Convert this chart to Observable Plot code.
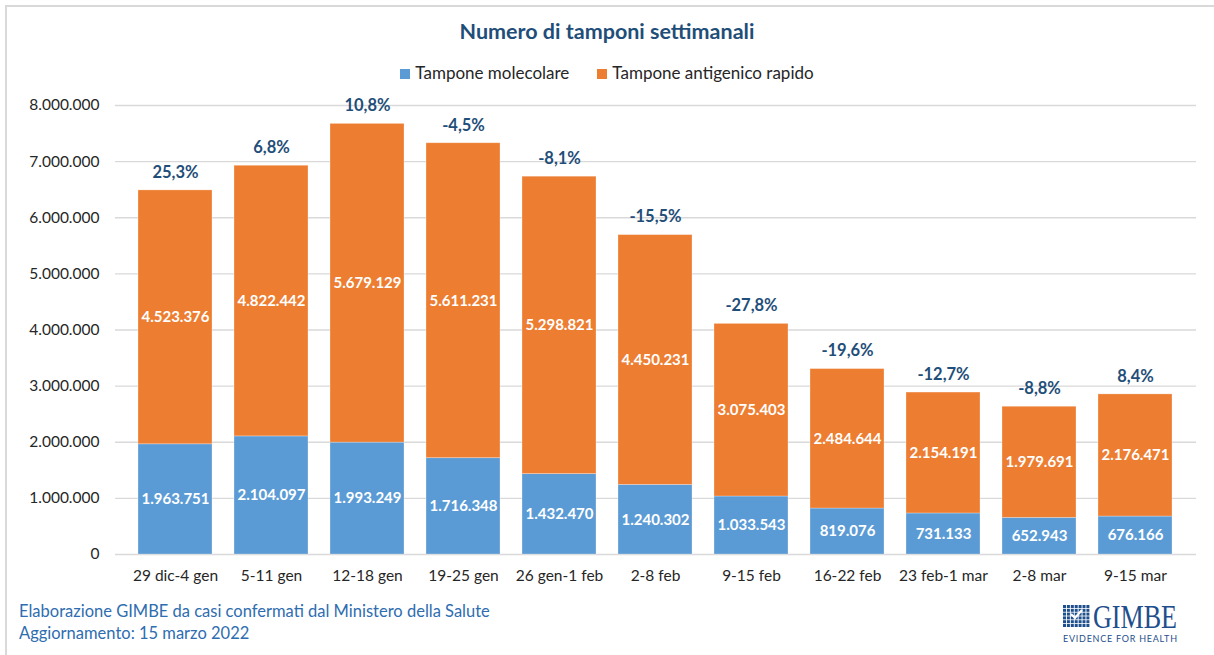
<!DOCTYPE html>
<html>
<head>
<meta charset="utf-8">
<script src="https://cdn.jsdelivr.net/npm/d3@7"></script>
<script src="https://cdn.jsdelivr.net/npm/@observablehq/plot@0.6"></script>
<style>
  html, body { margin: 0; padding: 0; background: #fff; }
  #page { position: relative; width: 1214px; height: 655px; overflow: hidden; font-family: Lato, "Open Sans", sans-serif; }
  #frame { position: absolute; left: 5px; top: 5px; width: 1300px; height: 800px; border-top: 2px solid #d9d9d9; border-left: 2px solid #d9d9d9; }
  #title { position: absolute; left: 0; width: 1214px; top: 18px; text-align: center; font-weight: bold; font-size: 21.5px; color: #1F4E79; }
  #legend { position: absolute; left: 0; width: 1214px; top: 62px; text-align: center; font-size: 17px; color: #262626; }
  #legend span.item { display: inline-block; margin: 0 14px; }
  #legend span.sw { display: inline-block; width: 10px; height: 10px; margin-right: 5px; vertical-align: 0px; }
  #chart { position: absolute; left: 0; top: 90px; }
  #footer { position: absolute; left: 19px; top: 600px; font-size: 16.5px; line-height: 22px; color: #2E6DB0; }
  #logo { position: absolute; left: 1058px; top: 598px; }
</style>
</head>
<body>
<div id="page">
  <div id="frame"></div>
  <div id="title">Numero di tamponi settimanali</div>
  <div id="legend"></div>
  <div id="chart"></div>
  <div id="footer">Elaborazione GIMBE da casi confermati dal Ministero della Salute<br>Aggiornamento: 15 marzo 2022</div>
  <div id="logo"></div>
</div>
<script>
const weeks = ["29 dic-4 gen", "5-11 gen", "12-18 gen", "19-25 gen", "26 gen-1 feb", "2-8 feb", "9-15 feb", "16-22 feb", "23 feb-1 mar", "2-8 mar", "9-15 mar"];
const molecolare = [1963751, 2104097, 1993249, 1716348, 1432470, 1240302, 1033543, 819076, 731133, 652943, 676166];
const antigenico = [4523376, 4822442, 5679129, 5611231, 5298821, 4450231, 3075403, 2484644, 2154191, 1979691, 2176471];
const variazione = [25.3, 6.8, 10.8, -4.5, -8.1, -15.5, -27.8, -19.6, -12.7, -8.8, 8.4];
const yTicks = [0, 1000000, 2000000, 3000000, 4000000, 5000000, 6000000, 7000000, 8000000];
const series = ["Tampone molecolare", "Tampone antigenico rapido"];
const colors = ["#5B9BD5", "#ED7D31"];

const it = d3.formatLocale({decimal: ",", thousands: ".", grouping: [3], currency: ["", " €"], minus: "-"});
const fmtInt = it.format(",d");
const fmtPct = it.format(".1f");

const data = weeks.flatMap((w, i) => [
  {week: w, tipo: series[0], v: molecolare[i]},
  {week: w, tipo: series[1], v: antigenico[i]}
]);
const totals = weeks.map((w, i) => ({week: w, total: molecolare[i] + antigenico[i], pct: variazione[i]}));

// legend
const legend = document.getElementById("legend");
series.forEach((s, i) => {
  const el = document.createElement("span");
  el.className = "item";
  el.innerHTML = `<span class="sw" style="background:${colors[i]}"></span>${s}`;
  legend.appendChild(el);
});

const chart = Plot.plot({
  width: 1214,
  height: 500,
  marginTop: 15,
  marginBottom: 36,
  marginLeft: 115,
  marginRight: 18,
  style: {fontFamily: "Lato, 'Open Sans', sans-serif", fontSize: "15.5px", color: "#262626", background: "transparent"},
  x: {domain: weeks, padding: 0.227, label: null, tickSize: 0, tickPadding: 15},
  y: {domain: [0, 8000000], ticks: yTicks, tickFormat: d => fmtInt(d), label: null, tickSize: 0, tickPadding: 16},
  color: {domain: series, range: colors},
  marks: [
    Plot.ruleY(yTicks, {stroke: "#d9d9d9", strokeWidth: 1.3}),
    Plot.barY(data, {x: "week", y: "v", fill: "tipo", stroke: "#ffffff", strokeOpacity: 0.35, strokeWidth: 0.8}),
    Plot.text(data, Plot.stackY({x: "week", y: "v", z: "tipo", text: d => fmtInt(d.v), fill: "white", fontWeight: "bold", fontSize: 15})),
    Plot.text(totals, {x: "week", y: "total", dy: -18, text: d => fmtPct(d.pct) + "%", fill: "#1F4E79", fontWeight: "bold", fontSize: 16.5})
  ]
});
document.getElementById("chart").appendChild(chart);

// logo
const logo = d3.select("#logo").append("svg").attr("width", 150).attr("height", 56);
const g = logo.append("g").attr("transform", "translate(5,7)");
for (let r = 0; r < 6; r++) for (let c = 0; c < 7; c++) {
  g.append("rect").attr("x", c * 3.9).attr("y", r * 3.8).attr("width", 3).attr("height", 3).attr("fill", "#1F4E8C");
}
g.append("path").attr("d", "M8,9 L12,13 L19,5").attr("stroke", "white").attr("stroke-width", 2.2).attr("fill", "none");
logo.append("text").attr("x", 35).attr("y", 30).text("GIMBE")
  .attr("fill", "#1F4E8C").attr("font-family", "'Liberation Serif', 'DejaVu Serif', serif").attr("font-size", 34)
  .attr("textLength", 84).attr("lengthAdjust", "spacingAndGlyphs");
logo.append("text").attr("x", 5).attr("y", 44).text("EVIDENCE FOR HEALTH")
  .attr("fill", "#1F4E8C").attr("font-family", "Lato, sans-serif").attr("font-size", 9)
  .attr("textLength", 114).attr("lengthAdjust", "spacing");
</script>
</body>
</html>
